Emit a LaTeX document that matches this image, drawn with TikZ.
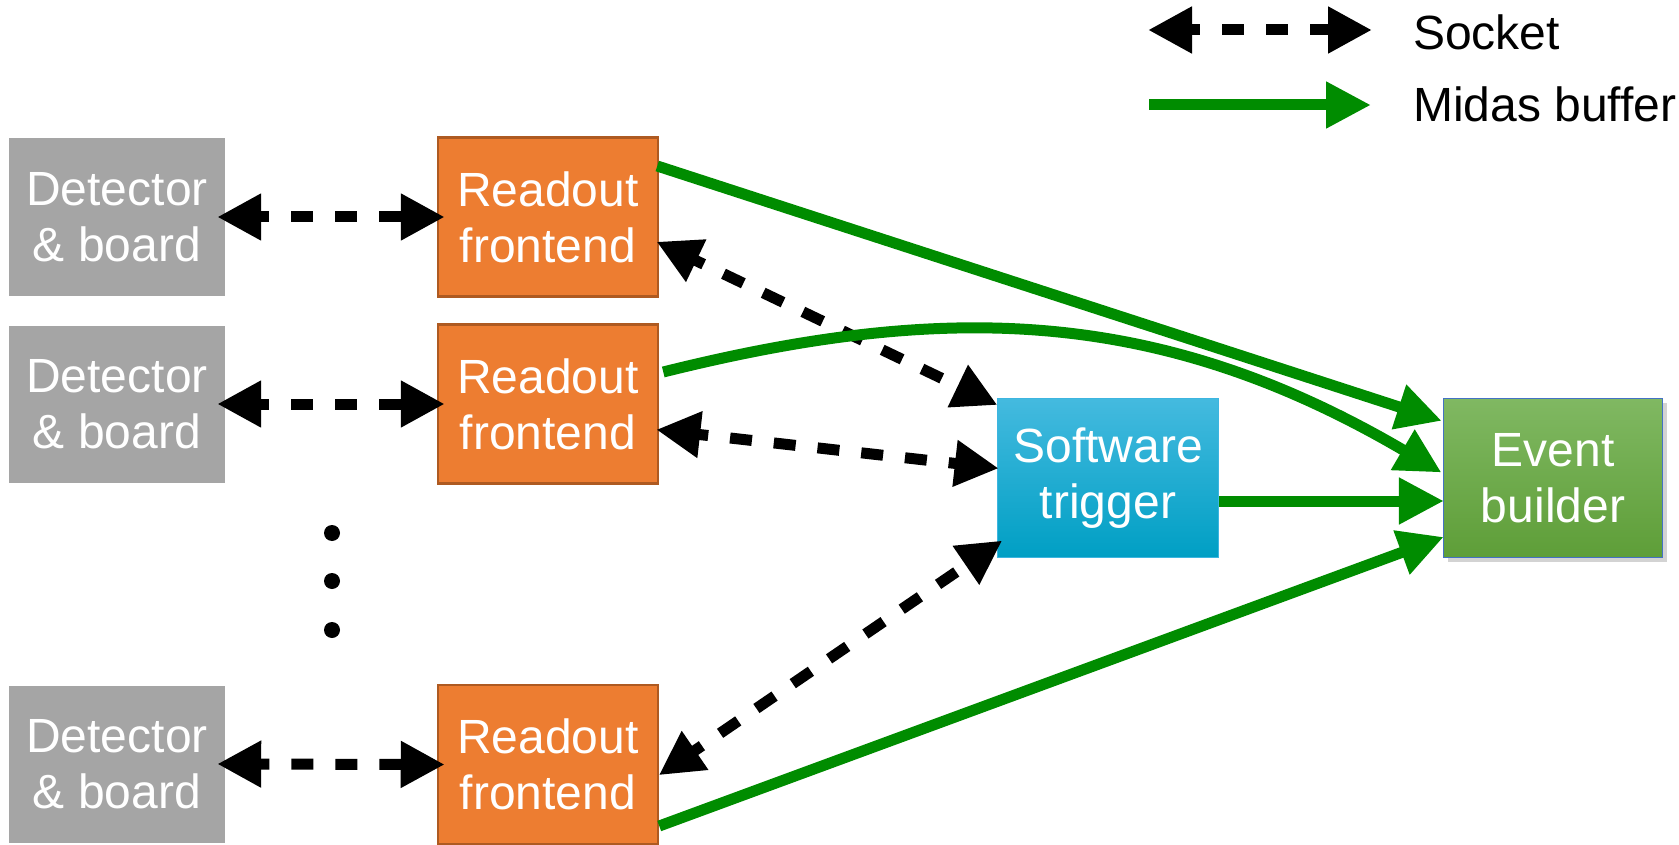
\documentclass[tikz,border=0pt]{standalone}
\usepackage{fontspec}
\setmainfont{Liberation Sans}
\usetikzlibrary{arrows.meta,shadows,shadings}
\definecolor{detgray}{HTML}{A5A5A5}
\definecolor{roorange}{HTML}{ED7D31}
\definecolor{roborder}{HTML}{AE5A21}
\definecolor{swtop}{HTML}{44BADF}
\definecolor{swbot}{HTML}{009FC4}
\definecolor{swborder}{HTML}{3DB5E0}
\definecolor{ebtop}{HTML}{80B862}
\definecolor{ebbot}{HTML}{5E9E38}
\definecolor{ebborder}{HTML}{4472C4}
\definecolor{midas}{RGB}{0,140,0}
\begin{document}
\begin{tikzpicture}[x=1pt,y=-1pt,
  box/.style={inner sep=0pt, align=center, text=white,
    font=\fontsize{48pt}{56pt}\selectfont},
  detbox/.style={box, fill=detgray, minimum width=216pt, minimum height=157pt},
  robox/.style={box, fill=roorange, draw=roborder, line width=2.5pt,
    minimum width=220pt, minimum height=159pt},
  swbox/.style={box, top color=swtop, bottom color=swbot, draw=swborder, line width=1.5pt,
    minimum width=221pt, minimum height=159pt},
  ebbox/.style={box, top color=ebtop, bottom color=ebbot, draw=ebborder, line width=1.2pt,
    minimum width=219pt, minimum height=159pt,
    drop shadow={opacity=0.35, shadow xshift=4pt, shadow yshift=-4pt}},
  legtext/.style={inner sep=0pt, anchor=west, font=\fontsize{48pt}{56pt}\selectfont},
  socket/.style={line width=11pt, dash pattern=on 22pt off 22pt, dash phase=11pt,
    shorten <=-3pt, shorten >=-3pt,
    {Triangle[length=44pt,width=44pt]}-{Triangle[length=44pt,width=44pt]}},
  midasarrow/.style={line width=11pt, draw=midas, shorten >=-3pt,
    -{Triangle[length=45pt,width=44pt]}},
  dot/.style={circle, fill=black, inner sep=0pt, minimum width=15pt, minimum height=16pt}
]
\useasboundingbox (0,0) rectangle (1679,845);

% detectors
\node[detbox] (det1) at (117,217) {Detector\\\& board};
\node[detbox] (det2) at (117,404) {Detector\\\& board};
\node[detbox] (det3) at (117,764) {Detector\\\& board};

% readout frontends
\node[robox] (ro1) at (548,217) {Readout\\frontend};
\node[robox] (ro2) at (548,404) {Readout\\frontend};
\node[robox] (ro3) at (548,764.5) {Readout\\frontend};

% software trigger and event builder
\node[swbox] (sw) at (1108,478) {Software\\trigger};
\node[ebbox] (eb) at (1553,478) {Event\\builder};

% dots
\node[dot] (d1) at (332,533) {};
\node[dot] (d2) at (332,581) {};
\node[dot] (d3) at (332,630) {};

% socket connections detector <-> readout
\draw[socket, shorten <=-8pt, shorten >=-8pt] (det1.east) -- (ro1.west);
\draw[socket, shorten <=-8pt, shorten >=-8pt] (det2.east) -- (ro2.west);
\draw[socket, shorten <=-8pt, shorten >=-8pt] (det3.east) -- (ro3.west);

% socket connections readout <-> trigger
\draw[socket] ([yshift=-26pt]ro1.east) -- ([yshift=-6pt,xshift=-2pt]sw.north west);
\draw[socket] ([yshift=-26pt]ro2.east) -- ([yshift=10pt,xshift=-1pt]sw.west);
\draw[socket] ([yshift=-9pt,xshift=2pt]ro3.east) -- ([yshift=16pt,xshift=3pt]sw.south west);

% midas buffers
\draw[midasarrow] ([yshift=51pt,xshift=-2pt]ro1.east) -- ([yshift=-22pt,xshift=-4pt]eb.north west);
\draw[midasarrow] ([yshift=32pt,xshift=4pt]ro2.east)
  .. controls (944,302) and (1158,306) .. ([yshift=7pt,xshift=-4pt]eb.west);
\draw[midasarrow] ([yshift=-23pt]sw.east) -- ([yshift=-23pt,xshift=-2pt]eb.west);
\draw[midasarrow] ([yshift=-61.5pt]ro3.east) -- ([yshift=-60pt,xshift=-2pt]eb.west);

% legend
\coordinate (ls1) at (1151,30);
\coordinate (ls2) at (1369,30);
\coordinate (lm1) at (1149,105);
\coordinate (lm2) at (1368,105);
\draw[socket] (ls1) -- (ls2);
\draw[midasarrow] (lm1) -- (lm2);
\node[legtext] (lsock) at (1413,32) {Socket};
\node[legtext] (lmid) at (1413,104) {Midas buffer};
\end{tikzpicture}
\end{document}
